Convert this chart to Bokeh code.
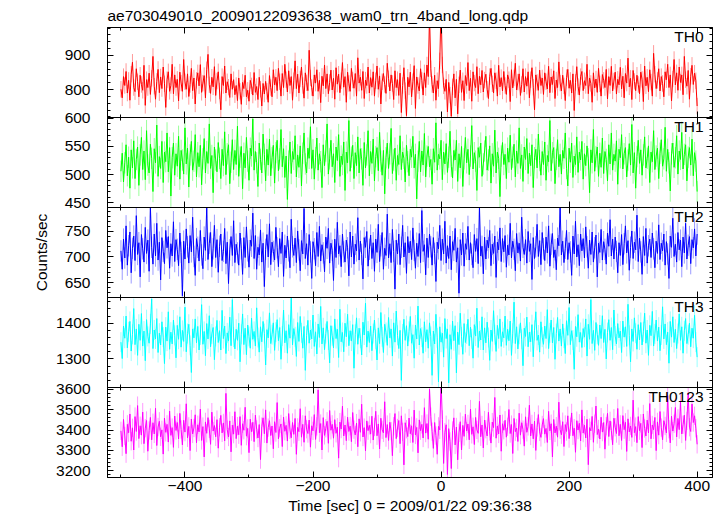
import numpy as np
from bokeh.plotting import figure
from bokeh.layouts import column
from bokeh.models import Range1d, FixedTicker, LinearAxis, Label, ColumnDataSource
from bokeh.embed import file_html
from bokeh.resources import INLINE

TITLE = "ae703049010_20090122093638_wam0_trn_4band_long.qdp"
X_LABEL = "Time [sec] 0 = 2009/01/22 09:36:38"
Y_LABEL = "Counts/sec"

# time bins: first bin and spacing (s)
T_START = -500
T_STEP = 2

band_names = ["TH0", "TH1", "TH2", "TH3", "TH0123"]

th0 = [801, 776, 838, 812, 853, 790, 827, 769, 845, 880, 806, 794, 861, 823, 779,
       842, 815, 798, 871, 754, 829, 806, 848, 786, 833, 897, 810, 772, 824, 859,
       791, 837, 803, 866, 817, 748, 829, 852, 795, 812, 874, 788, 843, 806, 830,
       767, 851, 819, 795, 888, 823, 801, 846, 780, 815, 862, 797, 834, 758, 827,
       849, 811, 873, 792, 819, 841, 776, 858, 903, 814, 789, 836, 808, 867, 783,
       825, 852, 796, 741, 838, 812, 869, 790, 823, 807, 777, 846, 801, 829, 785,
       812, 768, 834, 795, 757, 821, 803, 842, 779, 798, 766, 827, 811, 784, 850,
       792, 809, 771, 836, 801, 752, 818, 787, 824, 795, 763, 841, 806, 779, 858,
       814, 836, 797, 862, 823, 781, 847, 806, 874, 829, 793, 855, 812, 838, 769,
       826, 884, 803, 845, 790, 831, 866, 812, 775, 849, 820, 797, 915, 834, 806,
       781, 843, 819, 858, 795, 827, 762, 839, 811, 872, 803, 846, 788, 821, 857,
       799, 833, 772, 864, 816, 845, 791, 826, 879, 807, 838, 763, 851, 818, 795,
       862, 828, 804, 847, 781, 893, 819, 836, 798, 853, 774, 828, 812, 866, 790,
       835, 807, 852, 781, 826, 869, 801, 840, 758, 823, 847, 815, 789, 877, 832,
       796, 843, 818, 771, 855, 806, 829, 783, 848, 733, 812, 864, 797, 724, 836,
       808, 851, 779, 823, 870, 745, 837, 812, 796, 861, 827, 784, 849, 806, 872,
       838, 1020, 861, 815, 790, 842, 769, 826, 803, 884, 1040, 872, 811, 795, 830,
       735, 821, 784, 722, 808, 846, 776, 830, 729, 814, 857, 792, 826, 768, 841,
       812, 879, 797, 833, 766, 852, 819, 806, 867, 788, 839, 814, 856, 793, 828,
       845, 801, 774, 838, 862, 817, 790, 849, 826, 781, 871, 808, 835, 796, 853,
       812, 786, 843, 829, 765, 858, 805, 834, 877, 799, 822, 846, 783, 815, 861,
       793, 838, 810, 852, 776, 829, 864, 807, 741, 843, 821, 798, 857, 812, 834,
       786, 849, 823, 802, 868, 791, 837, 815, 855, 774, 828, 806, 881, 819, 796,
       842, 811, 768, 835, 859, 804, 827, 790, 846, 739, 821, 867, 809, 784, 838,
       853, 797, 826, 812, 874, 788, 834, 818, 763, 849, 805, 831, 792, 862, 817,
       781, 844, 827, 806, 859, 773, 838, 812, 868, 796, 825, 851, 787, 830, 814,
       865, 802, 839, 776, 847, 819, 892, 808, 833, 771, 856, 824, 797, 842, 815,
       788, 851, 830, 765, 869, 811, 836, 794, 858, 822, 781, 906, 845, 803, 827,
       861, 796, 838, 818, 779, 852, 829, 874, 806, 843, 767, 831, 888, 814, 849,
       798, 866, 821, 843, 785, 897, 829, 810, 856, 772, 839, 871, 815, 848, 826,
       752]

th1 = [506, 538, 487, 521, 553, 498, 531, 476, 544, 512, 560, 493, 527, 549, 481,
       535, 566, 509, 542, 491, 578, 517, 503, 554, 529, 470, 546, 521, 588, 497,
       532, 511, 559, 486, 540, 523, 574, 505, 548, 462, 530, 556, 499, 537, 515,
       568, 492, 543, 526, 501, 583, 519, 547, 478, 535, 559, 508, 524, 571, 496,
       539, 514, 552, 482, 528, 564, 503, 541, 520, 590, 511, 534, 468, 549, 526,
       505, 557, 529, 493, 545, 516, 576, 500, 537, 553, 484, 522, 562, 509, 543,
       518, 586, 497, 531, 550, 475, 538, 512, 566, 524, 490, 547, 533, 599, 508,
       541, 521, 479, 556, 527, 503, 572, 536, 489, 545, 517, 563, 498, 530, 552,
       485, 539, 561, 507, 528, 580, 514, 546, 495, 533, 456, 524, 558, 502, 541,
       527, 569, 496, 535, 513, 551, 480, 538, 574, 519, 503, 547, 529, 585, 511,
       544, 492, 530, 565, 508, 537, 523, 477, 553, 516, 542, 590, 501, 528, 561,
       514, 537, 486, 549, 525, 571, 497, 533, 518, 558, 472, 540, 521, 596, 506,
       531, 552, 493, 539, 516, 567, 503, 546, 528, 481, 557, 512, 535, 578, 498,
       541, 520, 563, 489, 532, 548, 507, 575, 524, 499, 543, 466, 530, 556, 511,
       537, 582, 502, 526, 547, 490, 534, 518, 569, 509, 540, 529, 487, 552, 523,
       498, 545, 531, 568, 512, 536, 457, 524, 559, 505, 542, 517, 573, 496, 533,
       550, 514, 527, 483, 546, 522, 592, 508, 536, 528, 561, 491, 540, 519, 555,
       504, 531, 577, 515, 494, 543, 526, 561, 488, 537, 512, 550, 479, 528, 566,
       521, 545, 500, 533, 587, 510, 539, 524, 472, 548, 531, 556, 497, 519, 542,
       568, 508, 526, 551, 485, 537, 515, 579, 503, 540, 529, 461, 533, 557, 518,
       536, 493, 547, 522, 570, 509, 531, 554, 496, 542, 520, 583, 511, 535, 488,
       549, 527, 564, 502, 538, 516, 553, 477, 530, 545, 512, 572, 525, 499, 541,
       518, 558, 490, 534, 523, 596, 507, 539, 548, 484, 527, 562, 514, 536, 501,
       543, 529, 574, 511, 480, 547, 522, 556, 495, 533, 518, 567, 504, 540, 526,
       559, 492, 537, 516, 551, 528, 468, 544, 521, 580, 506, 532, 549, 497, 538,
       513, 565, 502, 541, 527, 489, 553, 519, 574, 508, 536, 524, 560, 483, 545,
       530, 571, 510, 537, 548, 496, 526, 555, 517, 589, 503, 539, 476, 532, 561,
       520, 544, 499, 535, 567, 512, 529, 551, 486, 540, 523, 578, 509, 533, 547,
       493, 538, 562, 515, 528, 584, 506, 545, 521, 471, 537, 556, 513, 530, 569,
       501, 542, 527, 575, 510, 536, 553, 489, 531, 548, 517, 563, 498, 539, 524,
       470]

th2 = [712, 676, 735, 698, 761, 684, 722, 749, 669, 717, 741, 693, 781, 705, 728,
       661, 744, 716, 690, 758, 707, 733, 672, 798, 719, 686, 745, 702, 766, 694,
       729, 655, 738, 711, 687, 752, 718, 740, 678, 726, 702, 769, 691, 734, 715,
       683, 747, 709, 624, 731, 696, 755, 720, 688, 742, 710, 778, 701, 664, 736,
       719, 692, 752, 704, 677, 739, 713, 798, 695, 727, 748, 681, 716, 762, 699,
       734, 670, 721, 745, 693, 711, 756, 687, 729, 648, 714, 740, 703, 771, 689,
       725, 708, 684, 747, 716, 666, 738, 699, 759, 712, 680, 733, 721, 786, 697,
       742, 676, 719, 704, 753, 690, 727, 642, 715, 744, 700, 765, 685, 729, 711,
       694, 758, 718, 681, 736, 707, 749, 662, 723, 698, 741, 712, 679, 774, 720,
       703, 737, 689, 751, 714, 673, 732, 706, 795, 697, 726, 684, 744, 710, 658,
       730, 716, 683, 748, 701, 760, 692, 724, 708, 671, 739, 717, 756, 688, 727,
       713, 654, 735, 699, 768, 706, 722, 681, 745, 710, 690, 733, 718, 663, 749,
       700, 741, 686, 725, 712, 777, 694, 731, 705, 657, 738, 719, 750, 682, 715,
       743, 697, 728, 672, 735, 709, 764, 691, 722, 748, 676, 717, 703, 784, 698,
       726, 689, 754, 711, 637, 733, 706, 745, 685, 719, 762, 700, 728, 668, 740,
       708, 731, 695, 757, 713, 678, 727, 701, 746, 689, 791, 711, 724, 665, 737,
       699, 745, 720, 684, 738, 707, 652, 729, 716, 762, 693, 735, 706, 770, 688,
       722, 697, 741, 675, 730, 713, 756, 690, 718, 629, 734, 704, 747, 682, 726,
       715, 760, 694, 728, 705, 679, 744, 711, 736, 687, 799, 702, 721, 667, 739,
       696, 733, 718, 752, 683, 725, 707, 741, 660, 729, 714, 757, 691, 736, 710,
       742, 680, 723, 704, 766, 698, 731, 715, 673, 746, 708, 727, 692, 778, 719,
       705, 734, 688, 750, 711, 726, 656, 738, 697, 720, 764, 701, 732, 685, 748,
       716, 693, 739, 708, 761, 682, 725, 746, 699, 714, 675, 737, 722, 797, 704,
       731, 689, 717, 752, 695, 728, 710, 664, 741, 706, 770, 700, 724, 683, 745,
       712, 736, 698, 759, 720, 678, 733, 705, 749, 690, 718, 743, 661, 727, 709,
       754, 694, 730, 715, 686, 747, 721, 773, 702, 735, 696, 739, 711, 669, 728,
       703, 744, 685, 726, 761, 708, 732, 674, 719, 751, 697, 729, 714, 782, 691,
       737, 710, 666, 740, 703, 756, 688, 722, 735, 699, 747, 716, 679, 731, 707,
       763, 695, 727, 712, 745, 684, 730, 706, 658, 741, 719, 776, 701, 725, 690,
       748, 714, 733, 681, 739, 708, 766, 696, 723, 740, 687, 734, 718, 755, 702,
       745]

th3 = [1347, 1301, 1392, 1358, 1420, 1331, 1376, 1405, 1322, 1369, 1441, 1340, 1384, 1310, 1397,
       1352, 1427, 1336, 1378, 1295, 1410, 1363, 1344, 1398, 1468, 1329, 1381, 1356, 1413, 1318,
       1372, 1339, 1404, 1361, 1287, 1389, 1350, 1432, 1327, 1375, 1342, 1409, 1366, 1303, 1394,
       1355, 1418, 1333, 1380, 1349, 1445, 1320, 1371, 1397, 1338, 1262, 1384, 1359, 1412, 1345,
       1391, 1325, 1367, 1452, 1341, 1377, 1309, 1399, 1356, 1421, 1334, 1370, 1388, 1298, 1363,
       1408, 1346, 1379, 1325, 1436, 1357, 1392, 1315, 1373, 1350, 1417, 1337, 1466, 1361, 1328,
       1383, 1352, 1400, 1292, 1369, 1426, 1340, 1386, 1312, 1395, 1363, 1330, 1414, 1355, 1377,
       1336, 1443, 1360, 1319, 1390, 1348, 1405, 1371, 1283, 1382, 1359, 1429, 1343, 1368, 1401,
       1324, 1375, 1410, 1351, 1388, 1299, 1364, 1437, 1345, 1379, 1316, 1396, 1358, 1470, 1339,
       1385, 1362, 1307, 1402, 1349, 1419, 1373, 1330, 1391, 1268, 1366, 1408, 1344, 1381, 1356,
       1423, 1335, 1376, 1314, 1398, 1360, 1447, 1342, 1387, 1326, 1371, 1405, 1353, 1289, 1393,
       1365, 1331, 1412, 1357, 1383, 1304, 1439, 1348, 1374, 1320, 1400, 1362, 1425, 1337, 1379,
       1350, 1396, 1274, 1369, 1415, 1341, 1386, 1358, 1311, 1403, 1367, 1456, 1333, 1378, 1346,
       1392, 1323, 1371, 1409, 1355, 1297, 1387, 1343, 1430, 1362, 1318, 1397, 1374, 1338, 1416,
       1359, 1384, 1308, 1401, 1347, 1434, 1366, 1329, 1380, 1240, 1370, 1411, 1352, 1393, 1336,
       1377, 1419, 1344, 1368, 1302, 1395, 1356, 1448, 1339, 1385, 1361, 1316, 1404, 1348, 1382,
       1330, 1401, 1363, 1254, 1378, 1342, 1425, 1359, 1236, 1390, 1347, 1372, 1305, 1413, 1357,
       1384, 1233, 1368, 1327, 1406, 1351, 1393, 1261, 1375, 1340, 1428, 1362, 1313, 1399, 1346,
       1370, 1411, 1337, 1389, 1356, 1302, 1396, 1364, 1442, 1332, 1378, 1353, 1418, 1325, 1387,
       1345, 1403, 1360, 1296, 1381, 1349, 1435, 1368, 1321, 1394, 1357, 1412, 1335, 1376, 1359,
       1420, 1338, 1383, 1351, 1406, 1310, 1372, 1459, 1343, 1390, 1328, 1369, 1401, 1355, 1281,
       1386, 1363, 1417, 1334, 1375, 1348, 1396, 1306, 1380, 1432, 1352, 1367, 1319, 1404, 1361,
       1341, 1392, 1357, 1438, 1329, 1373, 1409, 1345, 1388, 1299, 1371, 1416, 1350, 1384, 1336,
       1398, 1358, 1315, 1407, 1366, 1444, 1340, 1379, 1353, 1271, 1391, 1362, 1424, 1347, 1374,
       1332, 1385, 1361, 1412, 1308, 1397, 1355, 1466, 1343, 1380, 1324, 1402, 1369, 1338, 1395,
       1357, 1421, 1346, 1383, 1300, 1374, 1410, 1352, 1388, 1326, 1437, 1364, 1342, 1399, 1359,
       1378, 1318, 1406, 1361, 1390, 1335, 1453, 1366, 1292, 1384, 1349, 1415, 1372, 1327, 1396,
       1353, 1402, 1339, 1376, 1428, 1344, 1381, 1310, 1394, 1365, 1433, 1336, 1370, 1409, 1350,
       1389, 1323, 1367, 1446, 1356, 1398, 1340, 1375, 1288, 1405, 1361, 1418, 1346, 1383, 1329,
       1371, 1426, 1352, 1390, 1316, 1379, 1413, 1343, 1368, 1400, 1334, 1386, 1358, 1422, 1347,
       1305]

th0123 = [3396, 3318, 3452, 3371, 3284, 3428, 3387, 3479, 3345, 3411, 3302, 3466, 3393, 3520, 3358,
          3421, 3375, 3488, 3333, 3409, 3447, 3296, 3398, 3462, 3352, 3436, 3381, 3507, 3324, 3415,
          3443, 3367, 3401, 3282, 3459, 3389, 3428, 3341, 3493, 3374, 3412, 3315, 3469, 3398, 3437,
          3356, 3482, 3403, 3327, 3448, 3390, 3529, 3362, 3418, 3299, 3454, 3381, 3410, 3475, 3338,
          3426, 3391, 3503, 3349, 3417, 3268, 3440, 3384, 3461, 3406, 3330, 3488, 3395, 3422, 3367,
          3451, 3311, 3414, 3472, 3386, 3435, 3347, 3580, 3402, 3366, 3445, 3293, 3424, 3380, 3490,
          3358, 3419, 3377, 3466, 3325, 3431, 3399, 3512, 3370, 3408, 3289, 3453, 3392, 3438, 3343,
          3473, 3403, 3361, 3427, 3255, 3417, 3460, 3382, 3499, 3336, 3412, 3446, 3373, 3420, 3308,
          3441, 3388, 3535, 3357, 3409, 3430, 3319, 3464, 3394, 3423, 3346, 3481, 3401, 3362, 3437,
          3379, 3457, 3281, 3413, 3392, 3505, 3365, 3428, 3340, 3470, 3404, 3383, 3449, 3316, 3421,
          3396, 3476, 3354, 3418, 3597, 3387, 3432, 3302, 3461, 3374, 3409, 3443, 3335, 3496, 3399,
          3428, 3360, 3451, 3384, 3414, 3262, 3439, 3405, 3517, 3371, 3425, 3348, 3463, 3393, 3419,
          3343, 3486, 3402, 3376, 3434, 3318, 3455, 3389, 3527, 3366, 3412, 3298, 3445, 3397, 3423,
          3380, 3468, 3351, 3415, 3492, 3372, 3430, 3307, 3458, 3401, 3386, 3539, 3363, 3427, 3349,
          3438, 3395, 3274, 3419, 3481, 3358, 3410, 3447, 3333, 3470, 3391, 3229, 3436, 3404, 3368,
          3459, 3382, 3421, 3339, 3498, 3376, 3413, 3288, 3450, 3397, 3428, 3361, 3510, 3385, 3432,
          3355, 3600, 3466, 3392, 3310, 3437, 3373, 3281, 3418, 3401, 3640, 3452, 3236, 3389, 3426,
          3182, 3407, 3344, 3211, 3398, 3460, 3327, 3415, 3254, 3386, 3441, 3302, 3423, 3369, 3478,
          3395, 3430, 3352, 3503, 3379, 3416, 3329, 3462, 3401, 3384, 3541, 3367, 3425, 3312, 3449,
          3404, 3371, 3487, 3393, 3336, 3439, 3412, 3560, 3360, 3420, 3381, 3474, 3296, 3431, 3399,
          3448, 3365, 3416, 3501, 3383, 3427, 3285, 3457, 3392, 3410, 3344, 3483, 3375, 3436, 3402,
          3321, 3465, 3389, 3418, 3522, 3371, 3430, 3357, 3444, 3300, 3413, 3476, 3391, 3364, 3425,
          3456, 3380, 3408, 3339, 3492, 3396, 3431, 3268, 3452, 3386, 3419, 3365, 3537, 3402, 3377,
          3441, 3319, 3427, 3393, 3470, 3358, 3416, 3484, 3372, 3409, 3291, 3446, 3400, 3433, 3347,
          3499, 3385, 3424, 3361, 3453, 3230, 3412, 3396, 3467, 3340, 3431, 3518, 3378, 3405, 3356,
          3463, 3390, 3437, 3306, 3419, 3482, 3368, 3445, 3397, 3328, 3458, 3414, 3383, 3506, 3372,
          3428, 3349, 3471, 3402, 3438, 3295, 3455, 3391, 3420, 3364, 3547, 3387, 3417, 3338, 3466,
          3397, 3433, 3314, 3479, 3408, 3371, 3449, 3386, 3530, 3357, 3425, 3401, 3462, 3299, 3440,
          3375, 3491, 3412, 3352, 3446, 3420, 3386, 3569, 3404, 3337, 3468, 3395, 3431, 3511, 3366,
          3457, 3402, 3539, 3381, 3426, 3473, 3349, 3445, 3582, 3414, 3393, 3528, 3437, 3470, 3409,
          3330]

# typical 1-sigma error per band (c/s)
band_errors = [24, 19, 21, 28, 45]

x_major_ticks = [-400, -200, 0, 200, 400]
x_minor_ticks = [-500, -300, -100, 100, 300]
x_tick_labels = {-400: "\u2212400", -200: "\u2212200", 0: "0", 200: "200", 400: "400"}

y_major_ticks = [[800, 900], [450, 500, 550, 600], [650, 700, 750], [1300, 1400],
                 [3200, 3300, 3400, 3500, 3600]]

series = [th0, th1, th2, th3, th0123]

# ---------------- styling ----------------
COLORS = ["#ff0000", "#00ff00", "#0000ff", "#00ffff", "#ff00ff"]
Y_LIMITS = [(718.5, 981.5), (441.7, 601.4), (620.6, 797.0), (1220.0, 1472.0), (3167.0, 3609.0)]
Y_MINOR_STEP = [20, 10, 10, 20, 20]
FONT = "Liberation Sans"
FS = "15.5px"
OV = 10

x_range = Range1d(-521, 424)


def style_axis(ax, ticks, minors, labels):
    ax.ticker = FixedTicker(ticks=ticks, minor_ticks=minors)
    ax.major_tick_in = 6
    ax.major_tick_out = 0
    ax.minor_tick_in = 3
    ax.minor_tick_out = 0
    ax.axis_line_color = "black"
    ax.major_tick_line_color = "black"
    ax.minor_tick_line_color = "black"
    if labels:
        ax.major_label_text_font = FONT
        ax.major_label_text_font_size = FS
        ax.major_label_text_color = "black"
    else:
        ax.major_label_text_font_size = "0px"
        ax.major_label_standoff = 0
        ax.major_label_overrides = {t: "" for t in ticks}


figs = []
n = len(series)
for k in range(n):
    first = k == 0
    last = k == n - 1
    lo, hi = Y_LIMITS[k]
    p = figure(frame_width=605, frame_height=90,
               x_range=x_range, y_range=Range1d(lo, hi),
               output_backend="svg", toolbar_location=None,
               x_axis_location=None, y_axis_location=None,
               min_border_left=107, min_border_right=3,
               min_border_top=27 if first else OV,
               min_border_bottom=30 if last else OV)
    p.grid.visible = False
    p.outline_line_color = "black"
    p.border_fill_color = None
    p.background_fill_color = "white"
    p.margin = (0 if first else -OV, 0, 0 if last else -OV, 0)

    vals = series[k]
    err = band_errors[k]
    time = [T_START + T_STEP * i for i in range(len(vals))]
    src = ColumnDataSource(dict(t=time, y=vals,
                                lo=[v - err for v in vals],
                                hi=[v + err for v in vals]))
    p.segment(x0="t", y0="lo", x1="t", y1="hi", source=src,
              line_color=COLORS[k], line_alpha=0.4, line_width=1)
    p.line(x="t", y="y", source=src, line_color=COLORS[k], line_width=1)

    step = Y_MINOR_STEP[k]
    ymin = [v for v in range(int(np.ceil(lo / step) * step), int(hi) + 1, step)
            if v not in y_major_ticks[k]]

    left = LinearAxis()
    style_axis(left, y_major_ticks[k], ymin, True)
    left.major_label_standoff = 17
    if k == 2:
        left.axis_label = Y_LABEL
        left.axis_label_text_font = FONT
        left.axis_label_text_font_size = FS
        left.axis_label_text_font_style = "normal"
        left.axis_label_text_color = "black"
        left.axis_label_standoff = 12
    p.add_layout(left, "left")

    right = LinearAxis()
    style_axis(right, y_major_ticks[k], ymin, False)
    p.add_layout(right, "right")

    top = LinearAxis()
    style_axis(top, x_major_ticks, x_minor_ticks, False)
    p.add_layout(top, "above")

    bottom = LinearAxis()
    style_axis(bottom, x_major_ticks, x_minor_ticks, last)
    if last:
        bottom.major_label_overrides = x_tick_labels
        bottom.major_label_standoff = 3
        bottom.axis_label = X_LABEL
        bottom.axis_label_text_font = FONT
        bottom.axis_label_text_font_size = FS
        bottom.axis_label_text_font_style = "normal"
        bottom.axis_label_text_color = "black"
        bottom.axis_label_standoff = 3
    p.add_layout(bottom, "below")

    p.add_layout(Label(x=410, y=hi, text=band_names[k], text_align="right",
                       text_baseline="top", y_offset=0, text_font=FONT,
                       text_font_size=FS, text_color="black"))

    if first:
        p.title.text = TITLE
        p.title.text_font = FONT
        p.title.text_font_size = FS
        p.title.text_font_style = "normal"
        p.title.text_color = "black"
        p.title.align = "left"
        p.title.standoff = 7
        p.title.offset = 0
    figs.append(p)

layout = column(*figs, spacing=0)
open("out.html", "w").write(file_html(layout, INLINE))
